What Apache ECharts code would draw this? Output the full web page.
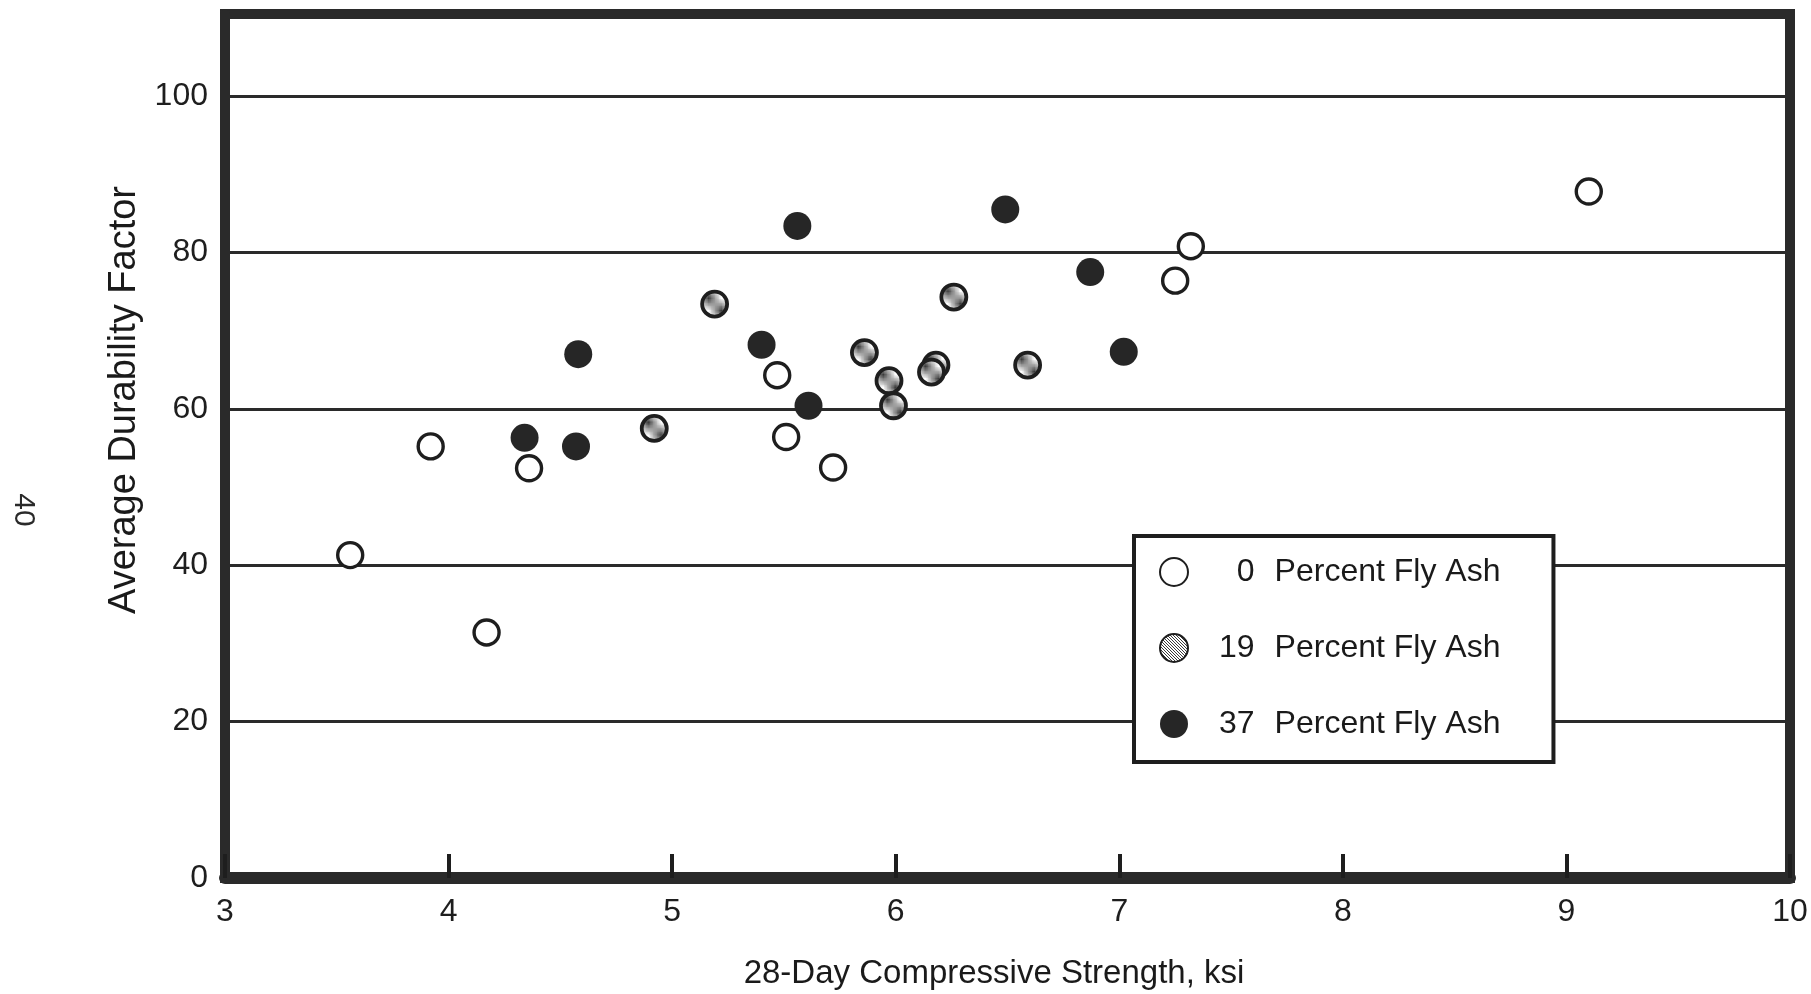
<!DOCTYPE html>
<html>
<head>
<meta charset="utf-8">
<script src="https://cdn.jsdelivr.net/npm/echarts@6/dist/echarts.min.js"></script>
<style>
html,body{margin:0;padding:0;background:#fff;}
#chart{width:1811px;height:994px;}
</style>
</head>
<body>
<div id="chart"></div>
<script>
// ---- data ----
const groupLabels = ['0', '19', '37'];
const seriesNames = ['0 Percent Fly Ash', '19 Percent Fly Ash', '37 Percent Fly Ash'];

const ash0X = [3.56, 3.92, 4.17, 4.36, 5.47, 5.51, 5.72, 7.25, 7.32, 9.10];
const ash0Y = [41.3, 55.2, 31.4, 52.4, 64.3, 56.4, 52.5, 76.4, 80.8, 87.8];

const ash19X = [4.92, 5.19, 5.86, 5.97, 5.99, 6.18, 6.16, 6.26, 6.59];
const ash19Y = [57.5, 73.4, 67.2, 63.6, 60.4, 65.6, 64.7, 74.3, 65.6];

const ash37X = [4.34, 4.57, 4.58, 5.40, 5.56, 5.61, 6.49, 6.87, 7.02];
const ash37Y = [56.3, 55.2, 67.0, 68.2, 83.4, 60.4, 85.5, 77.5, 67.3];

const xTicks = [3, 4, 5, 6, 7, 8, 9, 10];
const yTicks = [0, 20, 40, 60, 80, 100];

const xTitle = '28-Day Compressive Strength, ksi';
const yTitle = 'Average Durability Factor';
const pageNumber = '40';

// ---- helpers ----
const zip = (xs, ys) => xs.map((x, i) => [x, ys[i]]);
const FONT = '"Liberation Sans", Arial, Helvetica, sans-serif';
const INK = '#1e1e1e';
const LEGEND_FONT = 32;
const DIGIT_W = 0.556 * LEGEND_FONT;

// dotted (screen) fill pattern for the 19% markers
const pc = document.createElement('canvas');
pc.width = 3; pc.height = 3;
const pctx = pc.getContext('2d');
pctx.fillStyle = '#ffffff'; pctx.fillRect(0, 0, 3, 3);
pctx.fillStyle = '#3c3c3c';
pctx.fillRect(0, 0, 1, 1); pctx.fillRect(1, 1, 1, 1); pctx.fillRect(2, 2, 1, 1);
const screenFill = { image: pc, repeat: 'repeat' };

const chart = echarts.init(document.getElementById('chart'), null, { renderer: 'canvas' });

// one rich style per label so the numbers end at the same x (right aligned)
const legendRich = {
  t: { padding: [0, 0, 0, 20], fontSize: LEGEND_FONT, lineHeight: 36, fontFamily: FONT, color: '#1a1a1a' }
};
groupLabels.forEach((g, i) => {
  legendRich['n' + i] = {
    padding: [0, 0, 0, 26 + (2 - g.length) * DIGIT_W],
    fontSize: LEGEND_FONT, lineHeight: 36, fontFamily: FONT, color: '#1a1a1a'
  };
});

const option = {
  backgroundColor: '#ffffff',
  animation: false,
  grid: {
    left: 225, right: 21, top: 14, bottom: 116,
    show: true, borderColor: '#2a2a2a', borderWidth: 10, backgroundColor: 'transparent'
  },
  xAxis: {
    type: 'value', min: xTicks[0], max: xTicks[xTicks.length - 1], interval: 1,
    axisLine: { show: true, onZero: false, lineStyle: { color: '#2a2a2a', width: 12 } },
    axisTick: { show: true, inside: true, length: 24, lineStyle: { color: INK, width: 4 } },
    splitLine: { show: false },
    axisLabel: { color: INK, fontSize: 32, fontFamily: FONT, margin: 18 }
  },
  yAxis: {
    type: 'value', min: 0, max: 110.5, interval: 20,
    axisLine: { show: true, onZero: false, lineStyle: { color: '#2a2a2a', width: 10 } },
    axisTick: { show: false },
    splitLine: { show: true, lineStyle: { color: '#2a2a2a', width: 3 } },
    axisLabel: {
      color: INK, fontSize: 32, fontFamily: FONT, margin: 17, showMaxLabel: false,
      formatter: v => (yTicks.indexOf(v) >= 0 ? String(v) : '')
    }
  },
  legend: {
    orient: 'vertical', left: 1134, top: 536,
    itemWidth: 28, itemHeight: 28, itemGap: 44,
    padding: [20, 53, 22, 25],
    backgroundColor: '#ffffff', borderColor: INK, borderWidth: 4, borderRadius: 0,
    selectedMode: false,
    data: seriesNames,
    formatter: name => {
      const i = seriesNames.indexOf(name);
      return '{n' + i + '|' + groupLabels[i] + '}{t|Percent Fly Ash}';
    },
    textStyle: {
      color: '#1a1a1a', fontSize: LEGEND_FONT, fontFamily: FONT,
      rich: legendRich
    }
  },
  series: [
    {
      name: seriesNames[0], type: 'scatter', symbol: 'circle', symbolSize: 25,
      data: zip(ash0X, ash0Y),
      itemStyle: { color: '#ffffff', borderColor: '#1e1e1e', borderWidth: 3.4, opacity: 1 },
      emphasis: { disabled: true }, z: 3
    },
    {
      name: seriesNames[1], type: 'scatter', symbol: 'circle', symbolSize: 25,
      data: zip(ash19X, ash19Y),
      itemStyle: { color: screenFill, borderColor: '#1e1e1e', borderWidth: 3.8, opacity: 1 },
      emphasis: { disabled: true }, z: 3
    },
    {
      name: seriesNames[2], type: 'scatter', symbol: 'circle', symbolSize: 28,
      data: zip(ash37X, ash37Y),
      itemStyle: { color: '#262626', opacity: 1 },
      emphasis: { disabled: true }, z: 3
    }
  ],
  graphic: [
    {
      type: 'text', x: 125, y: 400, rotation: Math.PI / 2, silent: true,
      style: { text: yTitle, fill: '#1a1a1a', font: '38px ' + FONT, textAlign: 'center', textVerticalAlign: 'middle' }
    },
    {
      type: 'text', x: 994, y: 974, silent: true,
      style: { text: xTitle, fill: '#1a1a1a', font: '33px ' + FONT, textAlign: 'center', textVerticalAlign: 'middle' }
    },
    {
      type: 'text', x: 23, y: 510, rotation: -Math.PI / 2, silent: true,
      style: { text: pageNumber, fill: '#2a2a2a', font: '30px ' + FONT, textAlign: 'center', textVerticalAlign: 'middle' }
    }
  ]
};

chart.setOption(option);
</script>
</body>
</html>
